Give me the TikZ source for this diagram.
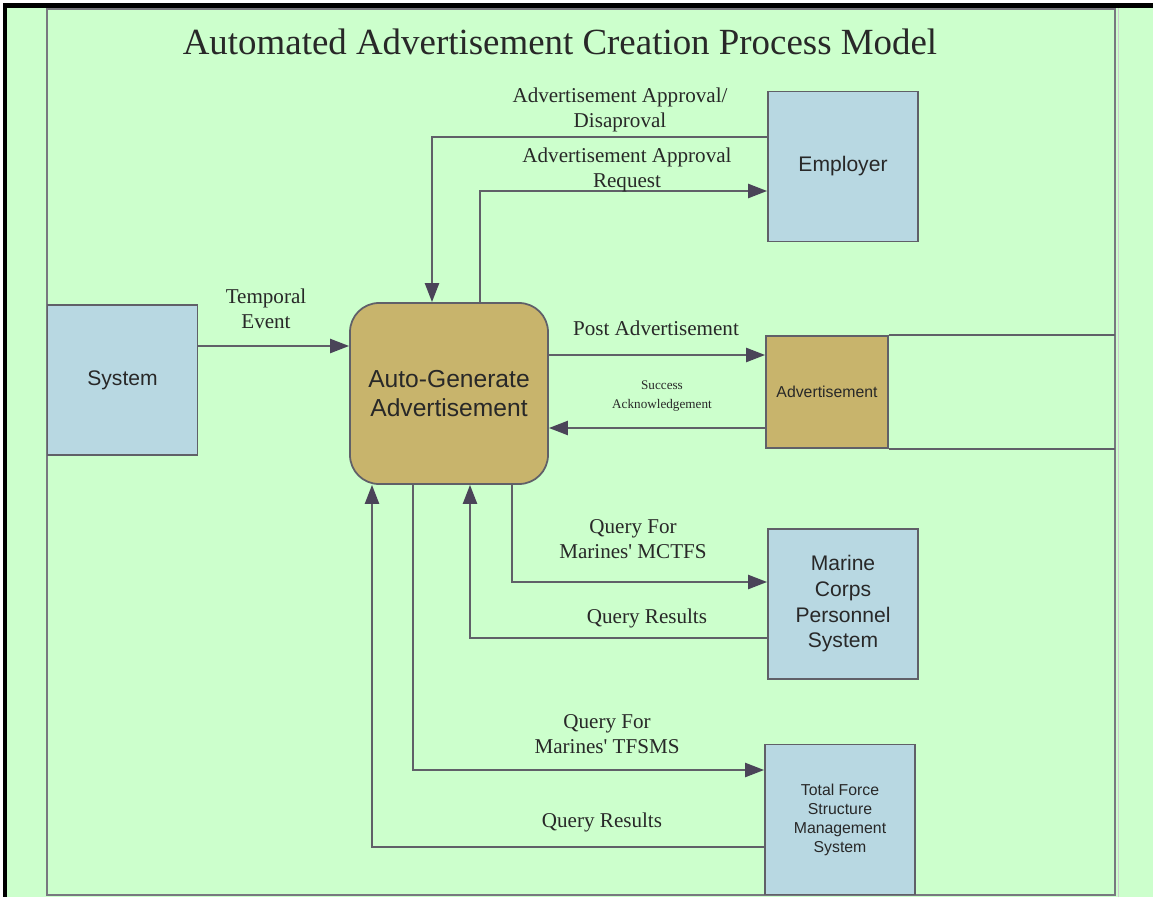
\documentclass[tikz,border=0pt]{standalone}
\usepackage{fontspec}
\setmainfont{Liberation Serif}
\setsansfont{Liberation Sans}
\usepackage{tikz}
\usetikzlibrary{arrows.meta, positioning, calc}
\definecolor{dfdvert}{RGB}{204,255,204}
\definecolor{dfdbleu}{RGB}{184,216,226}
\definecolor{dfdtan}{RGB}{200,180,108}
\definecolor{dfdgris}{RGB}{96,96,104}
\definecolor{dfdpointe}{RGB}{74,68,88}
\definecolor{dfdtexte}{RGB}{40,40,40}

\begin{document}
\begin{tikzpicture}[
  font=\rmfamily,
  ext/.style={rectangle, draw=dfdgris, fill=dfdbleu, line width=1pt,
              minimum width=3cm, minimum height=3cm, align=center,
              font=\sffamily\fontsize{12}{14.6}\selectfont, text=dfdtexte},
  proc/.style={rectangle, rounded corners=0.58cm, draw=dfdgris, fill=dfdtan, line width=1pt,
               minimum width=3.96cm, minimum height=3.62cm, align=center,
               font=\sffamily\fontsize{14}{17}\selectfont, text=dfdtexte},
  store/.style={rectangle, draw=dfdgris, fill=dfdtan, line width=1pt,
                minimum width=2.44cm, minimum height=2.24cm,
                font=\sffamily\fontsize{9}{11}\selectfont, text=dfdtexte},
  arr/.style={-{Triangle[length=3.8mm, width=2.8mm, color=dfdpointe]}, dfdgris, line width=1.3pt},
  lbl/.style={align=center, font=\fontsize{12}{14.2}\selectfont, text=dfdtexte}]

  % fond et cadre
  \fill[white] (0,0) rectangle (23.06,17.94);
  \useasboundingbox (0,0) rectangle (23.06,17.94);
  \fill[dfdvert] (0.15,0) rectangle (23.06,17.78);
  \fill[black] (0.06,0) rectangle (0.15,17.88);
  \fill[black] (0.06,17.78) rectangle (23.06,17.88);
  \draw[gray!40, line width=1pt] (22.37,0) -- (22.37,17.78);
  \draw[dfdgris!85, line width=1.1pt] (0.94,0.04) rectangle (22.3,17.76);
  \coordinate (cadreD) at (22.3,0);

  \node (titre) at (11.2,17.1) {\fontsize{21}{25}\selectfont\color{dfdtexte}Automated Advertisement Creation Process Model};

  \node[ext] (employer) at (16.86,14.61) {Employer};
  \node[ext] (system) at (2.45,10.34) {System};
  \node[proc] (autogen) at (8.98,10.07) {Auto-Generate\\Advertisement};
  \node[store] (advert) at (16.54,10.10) {Advertisement};
  \node[ext] (mcps) at (16.86,5.86) {Marine\\Corps\\Personnel\\System};
  \node[ext, font=\sffamily\fontsize{9}{10.8}\selectfont] (tfsms) at (16.8,1.55) {Total Force\\Structure\\Management\\System};

  \draw[dfdgris, line width=1pt] (advert.north east) -- (advert.north east -| cadreD);
  \draw[dfdgris, line width=1pt] (advert.south east) -- (advert.south east -| cadreD);

  \coordinate (p1) at ([yshift=0.74cm]advert.west);
  \coordinate (p2) at ([yshift=-0.72cm]advert.west);
  \coordinate (p3) at ([yshift=0.68cm]system.east);

  \draw[arr] ([yshift=0.59cm]employer.west) -| ([xshift=-0.34cm]autogen.north);
  \draw[arr] ([xshift=0.62cm]autogen.north) |- ([yshift=-0.49cm]employer.west);
  \draw[arr] (p3) -- (p3 -| autogen.west);
  \draw[arr] (autogen.east |- p1) -- (p1);
  \draw[arr] (p2) -- (autogen.east |- p2);
  \draw[arr] ([xshift=1.26cm]autogen.south) |- ([yshift=0.44cm]mcps.west);
  \draw[arr] ([yshift=-0.68cm]mcps.west) -| ([xshift=0.42cm]autogen.south);
  \draw[arr] ([xshift=-0.72cm]autogen.south) |- ([yshift=0.99cm]tfsms.west);
  \draw[arr] ([yshift=-0.55cm]tfsms.west) -| ([xshift=-1.54cm]autogen.south);

  \node[lbl] (l_approb) at (12.4,15.74) {Advertisement Approval/\\Disaproval};
  \node[lbl] (l_demande) at (12.54,14.54) {Advertisement Approval\\Request};
  \node[lbl] (l_temps) at (5.32,11.76) {Temporal\\Event};
  \node[lbl] (l_post) at (13.12,11.38) {Post Advertisement};
  \node[lbl, font=\fontsize{7.5}{10.8}\selectfont] (l_succes) at (13.24,10.02) {Success\\Acknowledgement};
  \node[lbl] (l_mctfs) at (12.66,7.16) {Query For\\Marines\textquotesingle{} MCTFS};
  \node[lbl] (l_res1) at (12.94,5.58) {Query Results};
  \node[lbl] (l_tfsms) at (12.14,3.26) {Query For\\Marines\textquotesingle{} TFSMS};
  \node[lbl] (l_res2) at (12.04,1.5) {Query Results};
\end{tikzpicture}
\end{document}
